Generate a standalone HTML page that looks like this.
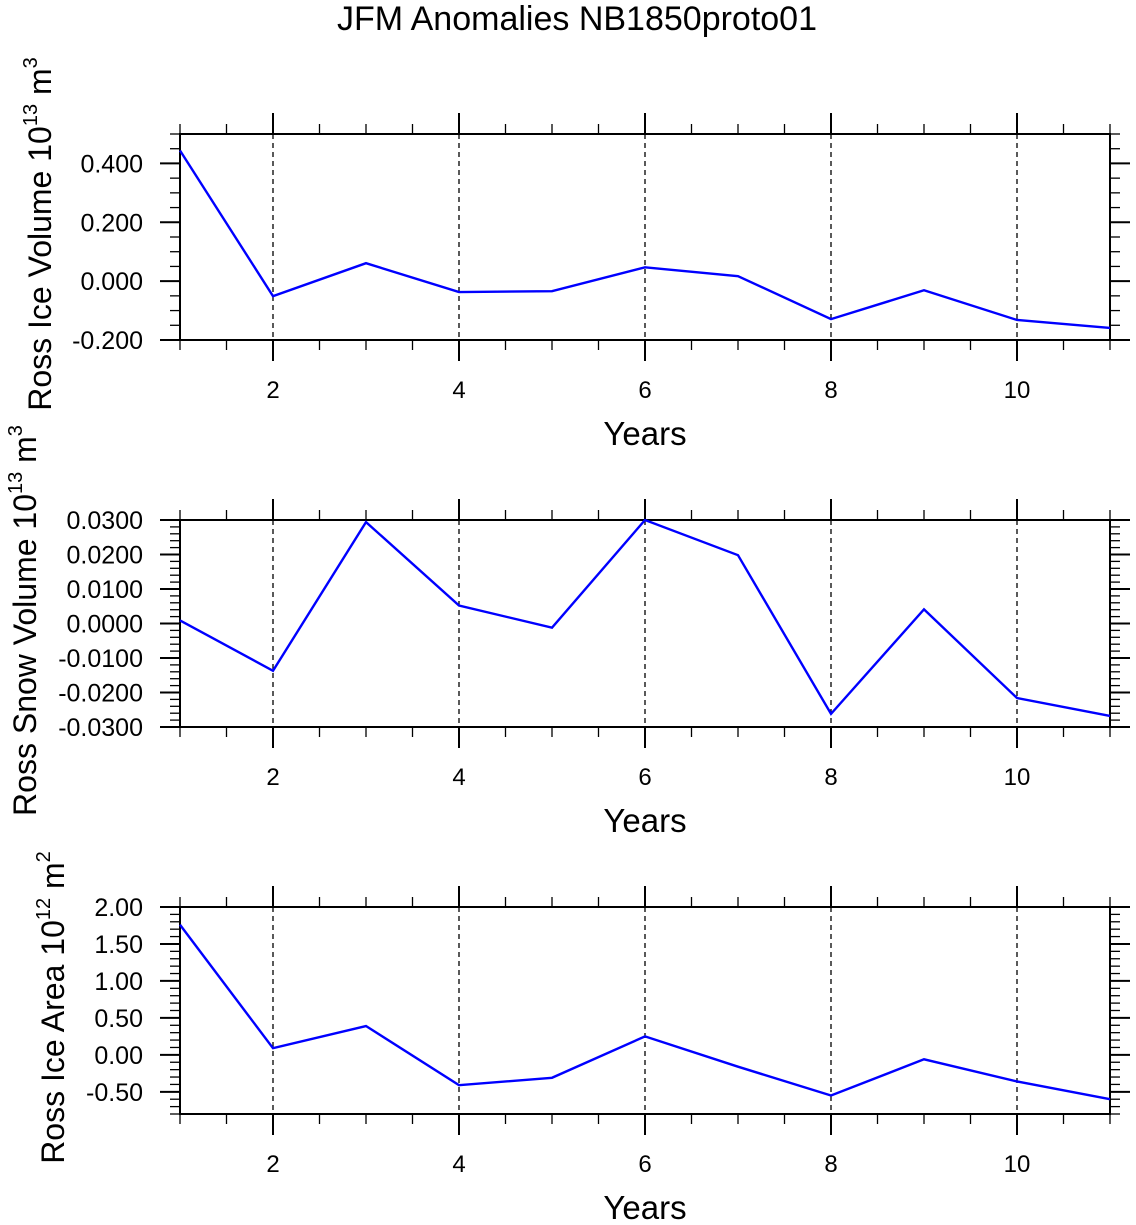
<!DOCTYPE html>
<html><head><meta charset="utf-8"><style>body{margin:0;background:#fff}svg{display:block;font-family:"Liberation Sans",sans-serif}</style></head>
<body>
<svg id="c" width="1136" height="1225" viewBox="0 0 1136 1225" xmlns="http://www.w3.org/2000/svg">
<text x="577" y="30" font-size="34" text-anchor="middle">JFM Anomalies NB1850proto01</text>
</svg>
<script>
const years=[1,2,3,4,5,6,7,8,9,10,11];
const iceVolume=[0.444,-0.051,0.061,-0.037,-0.034,0.047,0.017,-0.129,-0.031,-0.132,-0.159];
const snowVolume=[0.0009,-0.0137,0.0294,0.0052,-0.0012,0.030,0.0198,-0.0262,0.0041,-0.0216,-0.0268];
const iceArea=[1.76,0.09,0.39,-0.41,-0.31,0.25,-0.16,-0.55,-0.06,-0.36,-0.60];
const xTicks=[2,4,6,8,10];
const iceVolTicks=[-0.2,0,0.2,0.4];
const snowTicks=[-0.03,-0.02,-0.01,0,0.01,0.02,0.03];
const areaTicks=[-0.5,0,0.5,1,1.5,2];
const svg=document.getElementById('c');const NS='http://www.w3.org/2000/svg';
function mk(t,a,p){const e=document.createElementNS(NS,t);for(const k in a)e.setAttribute(k,a[k]);(p||svg).appendChild(e);return e;}
const X0=180,X1=1110;
const xs=v=>X0+(v-1)/(10)*(X1-X0);
function panel(name,top,bot,ymin,ymax,vals,ticks,dec,minorStep,title,sup,unit,usup,tx){
  const g=mk('g',{});
  
  
  const ys=v=>bot-(v-ymin)/(ymax-ymin)*(bot-top);
  xTicks.forEach(t=>{const l=mk('line',{x1:xs(t),x2:xs(t),y1:top,y2:bot,stroke:'#000','stroke-width':1.3,'stroke-dasharray':'5,4'},g);
    });
  for(let v=1;v<=11.001;v+=0.5){const maj=xTicks.some(t=>Math.abs(t-v)<1e-6);const L=maj?21:10;
    mk('line',{x1:xs(v),x2:xs(v),y1:top,y2:top-L,stroke:'#000','stroke-width':maj?2:1.3},g);
    mk('line',{x1:xs(v),x2:xs(v),y1:bot,y2:bot+L,stroke:'#000','stroke-width':maj?2:1.3},g);}
  xTicks.forEach(t=>{const e=mk('text',{x:xs(t),y:bot+58,'font-size':24,'text-anchor':'middle'},g);e.textContent=t;
    });
  const n=Math.round((ymax-ymin)/minorStep);
  for(let i=0;i<=n;i++){const v=ymin+i*minorStep;const maj=ticks.some(t=>Math.abs(t-v)<minorStep/10);const L=maj?20:10;
    mk('line',{x1:X0,x2:X0-L,y1:ys(v),y2:ys(v),stroke:'#000','stroke-width':maj?2:1.3},g);
    mk('line',{x1:X1,x2:X1+L,y1:ys(v),y2:ys(v),stroke:'#000','stroke-width':maj?2:1.3},g);}
  ticks.forEach(t=>{const e=mk('text',{x:143,y:ys(t)+9,'font-size':25,'text-anchor':'end'},g);e.textContent=t.toFixed(dec);
    });
  const r=mk('rect',{x:X0,y:top,width:X1-X0,height:bot-top,fill:'none',stroke:'#000','stroke-width':2},g);
  
  const pl=mk('polyline',{points:vals.map((v,i)=>xs(years[i])+','+ys(v)).join(' '),fill:'none',stroke:'#0000ff','stroke-width':2.4},g);
  
  const xt=mk('text',{x:645,y:bot+105,'font-size':33,'text-anchor':'middle'},g);xt.textContent='Years';
  
  const cy=(top+bot)/2-3;
  const yt=mk('text',{x:0,y:0,'font-size':32,'text-anchor':'middle',transform:`translate(${tx},${cy}) rotate(-90)`},g);
  
  yt.innerHTML=`${title} 10<tspan font-size="20" dy="-14">${sup}</tspan><tspan dy="14"> ${unit}</tspan><tspan font-size="20" dy="-14">${usup}</tspan>`;
}
panel('ice-volume',134,340,-0.2,0.5,iceVolume,iceVolTicks,3,0.05,'Ross Ice Volume','13','m','3',51);
panel('snow-volume',520,727,-0.03,0.03,snowVolume,snowTicks,4,0.002,'Ross Snow Volume','13','m','3',36);
panel('ice-area',907,1114,-0.8,2.0,iceArea,areaTicks,2,0.1,'Ross Ice Area','12','m','2',64);
</script>
</body></html>
